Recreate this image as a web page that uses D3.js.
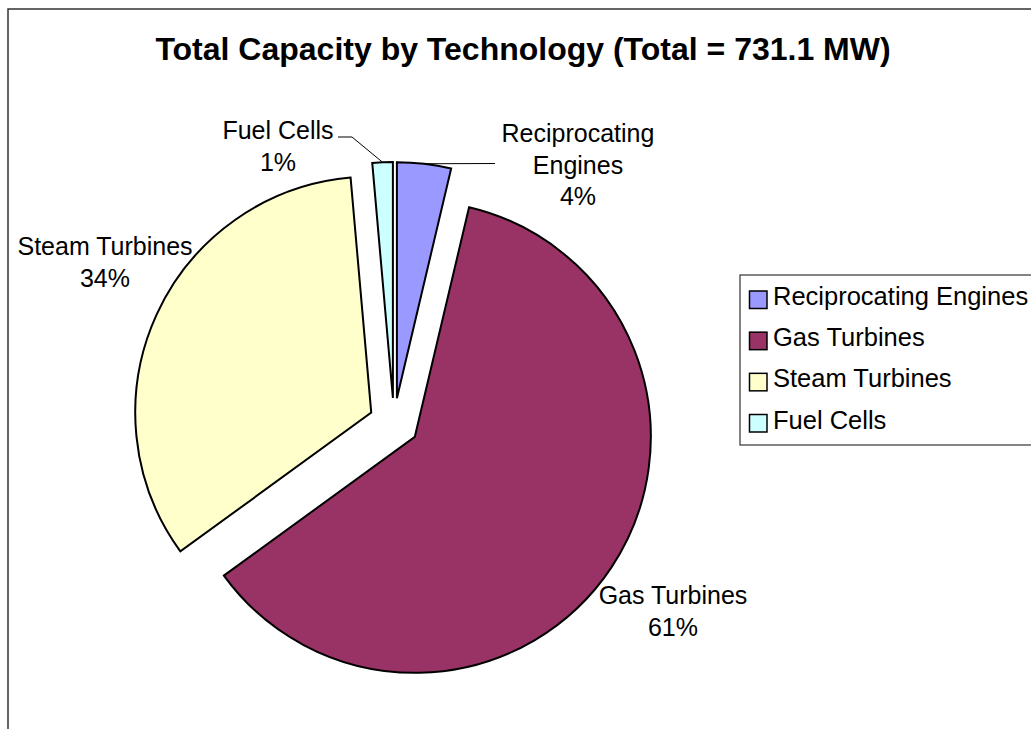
<!DOCTYPE html>
<meta charset="utf-8">
<style>
    body { margin: 0; background: #ffffff; }
    text { font-family: Arial, "Liberation Sans", sans-serif; fill: #000000; }
    .slices path { stroke: #000000; stroke-width: 2px; stroke-linejoin: miter; }
    .leaders polyline { fill: none; stroke: #000000; stroke-width: 1px; }
</style>
<svg width="1031" height="729"></svg>
<script src="https://d3js.org/d3.v7.min.js"></script>
<script>

    // capacity in MW (total 731.1 MW)
    var categories = ["Reciprocating Engines", "Gas Turbines", "Steam Turbines", "Fuel Cells"];
    var capacityMW = [27.0, 448.2, 245.7, 10.2];
    var colors = ["#9999ff", "#993366", "#ffffcc", "#ccffff"];
    var labelLines = [["Reciprocating", "Engines"], ["Gas Turbines"], ["Steam Turbines"], ["Fuel Cells"]];
    var title = "Total Capacity by Technology (Total = 731.1 MW)";

    var svg = d3.select("svg"),
        cx = 394, cy = 423,
        radius = 236,
        explode = 25;

    // chart area frame (runs off the right / bottom like the original)
    svg.append("rect")
        .attr("x", 8).attr("y", 9)
        .attr("width", 1100).attr("height", 800)
        .attr("fill", "#ffffff")
        .attr("stroke", "#333333")
        .attr("stroke-width", 1.5);

    svg.append("text")
        .attr("x", 523).attr("y", 60)
        .attr("text-anchor", "middle")
        .style("font-size", "32px")
        .style("font-weight", "bold")
        .text(title);

    var total = d3.sum(capacityMW);
    var table = categories.map(function (c, i) {
        return {name: c, value: capacityMW[i], color: colors[i], lines: labelLines[i]};
    });

    var pie = d3.pie().sort(null).value(function (d) { return d.value; });
    var arcs = pie(table);

    var arc = d3.arc().innerRadius(0).outerRadius(radius);
    var rim = d3.arc().innerRadius(radius).outerRadius(radius);

    function offset(d) {
        var a = (d.startAngle + d.endAngle) / 2;
        return [cx + explode * Math.sin(a), cy - explode * Math.cos(a)];
    }

    svg.append("g")
        .attr("class", "slices")
        .selectAll("path")
        .data(arcs)
        .enter().append("path")
        .attr("transform", function (d) { return "translate(" + offset(d) + ")"; })
        .attr("fill", function (d) { return d.data.color; })
        .attr("d", arc);

    // label anchors (layout only): centre x, first baseline, optional leader end points
    var labelPos = [
        {x: 578, y: 142, leader: [[495, 163.5]]},
        {x: 673, y: 604},
        {x: 105, y: 255},
        {x: 278, y: 139, leader: [[352, 137], [338, 137]]}
    ];

    var leaders = svg.append("g").attr("class", "leaders");
    arcs.forEach(function (d, i) {
        var p = labelPos[i];
        if (!p.leader) return;
        var o = offset(d), c = rim.centroid(d);
        var pts = [[o[0] + c[0], o[1] + c[1]]].concat(p.leader);
        leaders.append("polyline").attr("points", pts.map(function (q) { return q.join(","); }).join(" "));
    });

    var labels = svg.append("g").selectAll("text")
        .data(arcs)
        .enter().append("text")
        .attr("text-anchor", "middle")
        .style("font-size", "25px");

    labels.each(function (d, i) {
        var t = d3.select(this), p = labelPos[i];
        var lines = d.data.lines.concat([Math.round(100 * d.value / total) + "%"]);
        lines.forEach(function (s, k) {
            t.append("tspan").attr("x", p.x).attr("y", p.y + k * 31.5).text(s);
        });
    });

    // legend
    var legend = svg.append("g").attr("transform", "translate(740,275)");
    legend.append("rect")
        .attr("width", 400).attr("height", 170)
        .attr("fill", "#ffffff")
        .attr("stroke", "#333333")
        .attr("stroke-width", 1.2);

    var rowY = d3.scalePoint().domain(categories).range([24.5, 148]);

    var item = legend.selectAll("g.item")
        .data(table)
        .enter().append("g")
        .attr("class", "item")
        .attr("transform", function (d) { return "translate(0," + rowY(d.name) + ")"; });

    item.append("rect")
        .attr("x", 9.5).attr("y", -8.5)
        .attr("width", 17.5).attr("height", 17.5)
        .attr("fill", function (d) { return d.color; })
        .attr("stroke", "#000000")
        .attr("stroke-width", 1.5);

    item.append("text")
        .attr("x", 33).attr("y", 5.5)
        .style("font-size", "25.5px")
        .text(function (d) { return d.name; });

</script>
